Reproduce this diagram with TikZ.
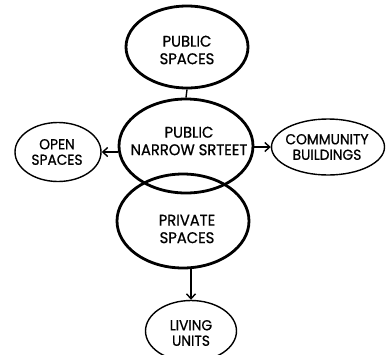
\documentclass[tikz,border=0pt]{standalone}
\usepackage{fontspec}
\setmainfont[FakeStretch=0.95,FakeBold=0.8]{Poppins}
\usetikzlibrary{shapes.geometric,arrows.meta}
\begin{document}
\begin{tikzpicture}[x=1pt,y=-1pt,
  big/.style={draw,ellipse,line width=2.8pt,inner sep=0pt},
  small/.style={draw,ellipse,line width=1.4pt,inner sep=0pt},
  bigtext/.style={align=center,inner sep=0pt,font=\fontsize{15.5}{17.5}\selectfont},
  smalltext/.style={align=center,inner sep=0pt,font=\fontsize{14.5}{15.5}\selectfont},
  link/.style={line width=1.4pt},
  arr/.style={line width=1.4pt,-{Straight Barb[length=5pt,width=9pt,line width=1.4pt]}}]
\useasboundingbox[fill=white] (0,0) rectangle (390,354);
\node[big,minimum width=122pt,minimum height=82pt] (ps) at (187,47) {};
\node[big,minimum width=134pt,minimum height=94pt] (ns) at (186,146) {};
\node[big,minimum width=132pt,minimum height=94pt] (pr) at (183,221) {};
\node[small,minimum width=86pt,minimum height=59pt] (os) at (58,152) {};
\node[small,minimum width=113pt,minimum height=56pt] (cb) at (328,147) {};
\node[small,minimum width=91pt,minimum height=61pt] (lu) at (191,331) {};
\node[bigtext] (pst) at (187,50) {PUBLIC\\SPACES};
\node[bigtext] (nst) at (189,141) {PUBLIC\\NARROW SRTEET};
\node[bigtext] (prt) at (187,229) {PRIVATE\\SPACES};
\node[smalltext] (ost) at (57,152) {OPEN\\SPACES};
\node[smalltext] (cbt) at (327,147) {COMMUNITY\\BUILDINGS};
\node[smalltext] (lut) at (191,333) {LIVING\\UNITS};
\draw[link] (ps.south) -- (ns.north);
\draw[arr] (ns.west |- os.east) -- (os.east);
\draw[arr] (ns.east |- cb.west) -- (cb.west);
\draw[arr] (pr.south -| lu.north) -- (lu.north);
\end{tikzpicture}
\end{document}
